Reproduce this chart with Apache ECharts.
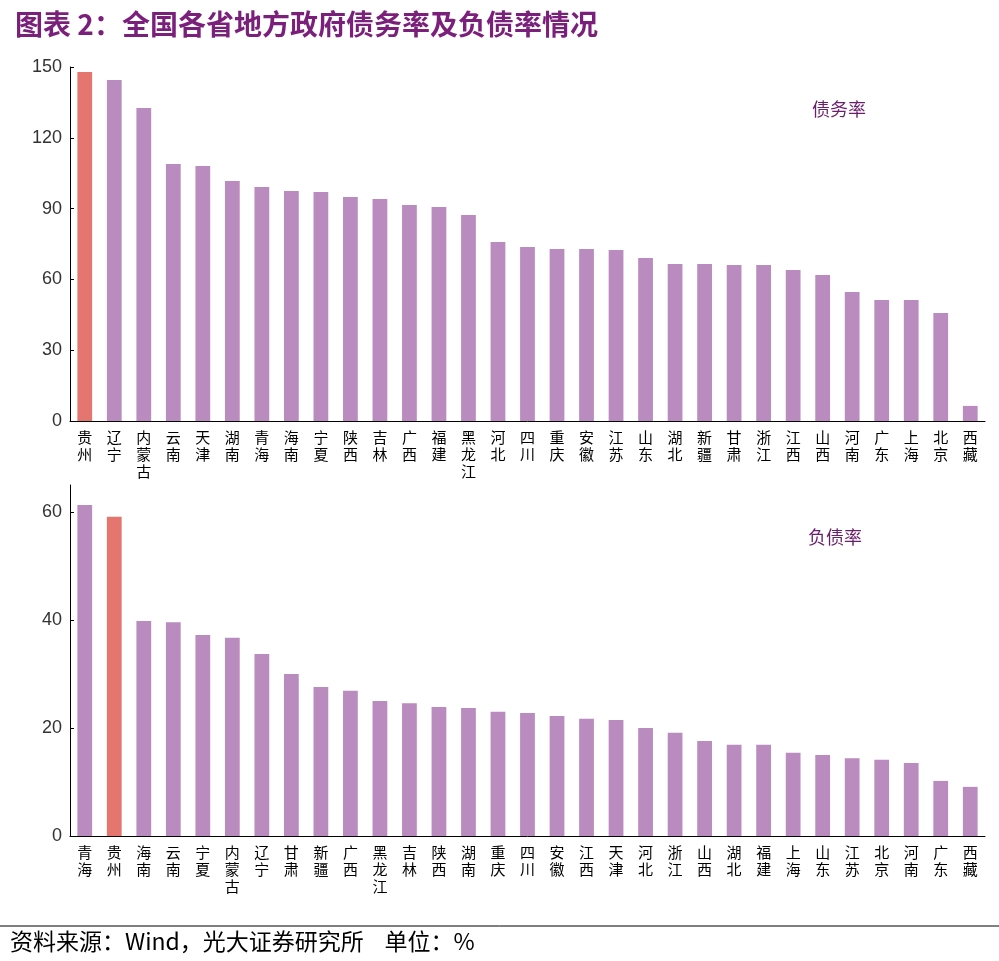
<!DOCTYPE html>
<html><head><meta charset="utf-8">
<script src="https://cdn.jsdelivr.net/npm/echarts@6/dist/echarts.min.js"></script>
<style>body{margin:0;background:#fff}#c{width:999px;height:961px}</style></head>
<body><div id="c"></div>
<script>
const cat1=['贵州','辽宁','内蒙古','云南','天津','湖南','青海','海南','宁夏','陕西','吉林','广西','福建','黑龙江','河北','四川','重庆','安徽','江苏','山东','湖北','新疆','甘肃','浙江','江西','山西','河南','广东','上海','北京','西藏'];
const val1=[147.9,144.5,132.6,108.9,108.1,101.7,99.2,97.5,97.0,94.9,94.1,91.5,90.7,87.3,75.8,73.7,72.9,72.9,72.5,69.1,66.5,66.5,66.1,66.1,64.0,61.9,54.7,51.3,51.3,45.8,6.4];
const cat2=['青海','贵州','海南','云南','宁夏','内蒙古','辽宁','甘肃','新疆','广西','黑龙江','吉林','陕西','湖南','重庆','四川','安徽','江西','天津','河北','浙江','山西','湖北','福建','上海','山东','江苏','北京','河南','广东','西藏'];
const val2=[61.3,59.1,39.8,39.6,37.2,36.7,33.7,30.0,27.6,26.9,25.0,24.6,23.9,23.7,23.0,22.8,22.2,21.7,21.5,20.0,19.1,17.6,16.9,16.9,15.4,15.0,14.4,14.1,13.5,10.2,9.1];
const ticks1=[0,30,60,90,120,150];
const ticks2=[0,20,40,60];
const hi='贵州';
const purple='#B98BBE', red='#E4766F';
function data(c,v){return v.map((x,i)=>({value:x,itemStyle:{color:c[i]===hi?red:purple}}));}
const font='"Noto Sans CJK SC", sans-serif';
function xa(i,c){return {type:'category',gridIndex:i,data:c,axisTick:{show:false},axisLine:{lineStyle:{color:'#000'}},
 axisLabel:{interval:0,color:'#000',fontSize:15,fontFamily:font,lineHeight:17,formatter:s=>s.split('').join('\n')}};}
function ya(i,max,iv){return {type:'value',gridIndex:i,min:0,max:max,interval:iv,splitLine:{show:false},
 axisLine:{show:true,lineStyle:{color:'#000'}},axisTick:{show:true,inside:true,length:4},
 axisLabel:{color:'#333',fontSize:18,fontFamily:'Liberation Sans',showMaxLabel:max%iv===0}};}
const ch=echarts.init(document.getElementById('c'));
ch.setOption({animation:false,
 title:{text:'图表 2：全国各省地方政府债务率及负债率情况',left:10,top:5,textStyle:{color:'#7A1F7A',fontSize:28,fontWeight:'bold',fontFamily:font}},
 grid:[{left:70,right:14,top:67,height:354},{left:70,right:14,top:485,height:351}],
 xAxis:[xa(0,cat1),xa(1,cat2)],
 yAxis:[ya(0,150,30),ya(1,65,20)],
 series:[{type:'bar',xAxisIndex:0,yAxisIndex:0,barWidth:'50%',data:data(cat1,val1)},
  {type:'bar',xAxisIndex:1,yAxisIndex:1,barWidth:'50%',data:data(cat2,val2)}],
 graphic:[
  {type:'text',left:812,top:100,style:{text:'债务率',fill:'#6B1E6B',font:'18px "Noto Sans CJK SC"'}},
  {type:'text',left:808,top:528,style:{text:'负债率',fill:'#6B1E6B',font:'18px "Noto Sans CJK SC"'}},
  {type:'line',shape:{x1:0,y1:926,x2:999,y2:926},style:{stroke:'#000',lineWidth:1}},
  {type:'text',left:10,top:930,style:{text:'资料来源：Wind，光大证券研究所    单位：%',fill:'#000',font:'23px "Noto Sans CJK SC"'}}
 ]});
</script></body></html>
